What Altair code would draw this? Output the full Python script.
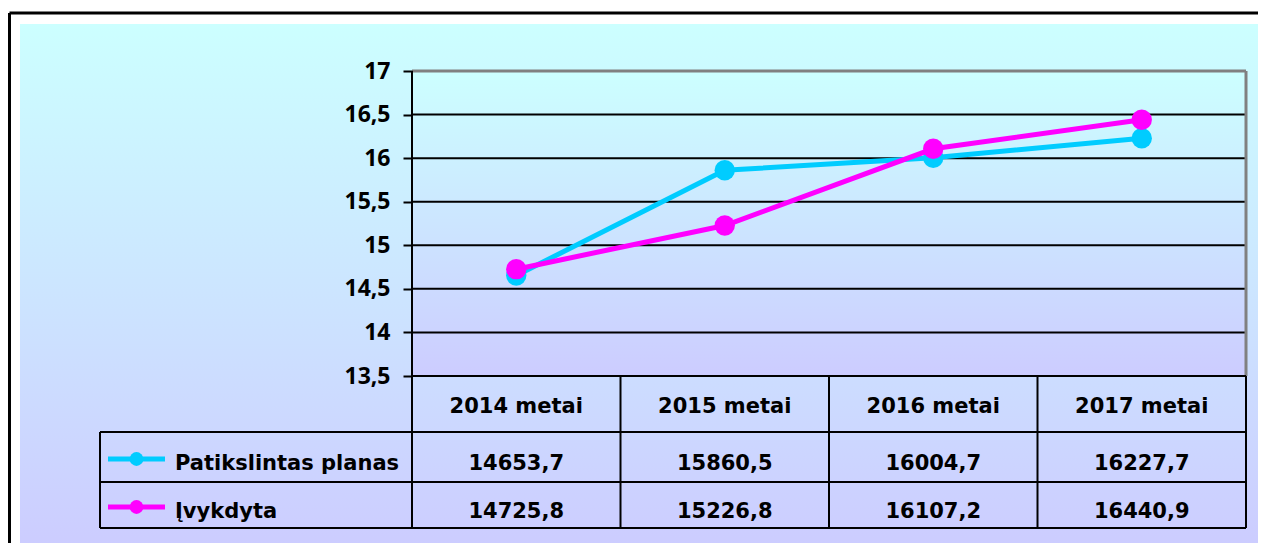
import altair as alt
import pandas as pd

# ---------------- data ----------------
years = ["2014 metai", "2015 metai", "2016 metai", "2017 metai"]
plan = [14653.7, 15860.5, 16004.7, 16227.7]
done = [14725.8, 15226.8, 16107.2, 16440.9]
series_names = ["Patikslintas planas", "Įvykdyta"]
series_colors = ["#00CCFF", "#FF00FF"]
y_ticks = [13.5, 14, 14.5, 15, 15.5, 16, 16.5, 17]

# ---------------- layout (page pixels) ----------------
PLOT_L, PLOT_T = 412, 71
PLOT_W = 834
Y_TOP, Y_BASE = 17.0, 13.5
PX_PER = (376 - 71) / (Y_TOP - Y_BASE)
TABLE_BOTTOM = 528
PLOT_H = TABLE_BOTTOM - PLOT_T
Y_LO = Y_TOP - PLOT_H / PX_PER
COL_W = PLOT_W / len(years)
VIEW_W, VIEW_H = 1250, 535


def yv(py):
    return Y_TOP - (py - PLOT_T) / PX_PER


def xv(px):
    return (px - PLOT_L) / COL_W


def rx(px):
    return px - PLOT_L


def ry(py):
    return py - PLOT_T


XS = alt.Scale(domain=[0, len(years)], nice=False, zero=False)
YS = alt.Scale(domain=[Y_LO, Y_TOP], nice=False, zero=False)
AX = alt.Axis(values=y_ticks, grid=False, domain=False, ticks=True,
              tickColor="black", tickWidth=2, tickSize=9,
              labelFont="Open Sans", labelFontWeight=700, labelFontSize=23,
              labelColor="black", labelPadding=13, labelFlush=False,
              labelOverlap=False,
              labelExpr="replace(toString(datum.value), '.', ',')",
              title=None, zindex=1)

TFONT = "DejaVu Sans"
TSIZE = 21

dummy = pd.DataFrame({"a": [0]})


def grad(top, bottom):
    return alt.LinearGradient(gradient="linear",
                              stops=[alt.GradientStop(color=top, offset=0),
                                     alt.GradientStop(color=bottom, offset=1)],
                              x1=0, x2=0, y1=0, y2=1)


layers = []

# outer background and frame
layers.append(alt.Chart(dummy).mark_rect(fill=grad("#CCFFFF", "#CCCCFF")).encode(
    x=alt.value(rx(20)), x2=alt.value(rx(1263)),
    y=alt.value(ry(24)), y2=alt.value(ry(548))))
layers.append(alt.Chart(dummy).mark_rule(color="black", strokeWidth=3).encode(
    x=alt.value(rx(9.5)), y=alt.value(ry(13)), y2=alt.value(ry(600))))
layers.append(alt.Chart(dummy).mark_rule(color="black", strokeWidth=3).encode(
    x=alt.value(rx(9.5)), x2=alt.value(rx(1300)), y=alt.value(ry(13))))

# plot-area gradient
plot_box = pd.DataFrame({"x": [0], "x2": [len(years)], "y": [Y_BASE], "y2": [Y_TOP]})
layers.append(alt.Chart(plot_box).mark_rect(fill=grad("#CCFFFF", "#CCCCFF")).encode(
    x=alt.X("x:Q", scale=XS, axis=None), x2="x2:Q",
    y=alt.Y("y:Q", scale=YS, axis=AX), y2="y2:Q"))

# gridlines
grid_df = pd.DataFrame({"y": y_ticks})
layers.append(alt.Chart(grid_df).mark_rule(color="black", strokeWidth=2).encode(
    x=alt.value(0), x2=alt.value(PLOT_W),
    y=alt.Y("y:Q", scale=YS, axis=AX)))

# gray plot border (top + right)
border = pd.DataFrame({"x": [0, len(years)], "x2": [len(years), len(years)],
                       "y": [Y_TOP, Y_BASE], "y2": [Y_TOP, Y_TOP]})
layers.append(alt.Chart(border).mark_rule(color="#808080", strokeWidth=3).encode(
    x=alt.X("x:Q", scale=XS, axis=None), x2="x2:Q",
    y=alt.Y("y:Q", scale=YS, axis=AX), y2="y2:Q"))

# table grid lines
LEG_L = xv(100)
R1, R2 = yv(432), yv(482)
segs = []
segs.append((0, len(years), Y_BASE, Y_BASE))
for yy in (R1, R2, Y_LO):
    segs.append((LEG_L, len(years), yy, yy))
segs.append((0, 0, Y_LO, Y_TOP))
for i in range(1, len(years) + 1):
    segs.append((i, i, Y_LO, Y_BASE))
segs.append((LEG_L, LEG_L, Y_LO, R1))
seg_df = pd.DataFrame(segs, columns=["x", "x2", "y", "y2"])
layers.append(alt.Chart(seg_df).mark_rule(color="black", strokeWidth=2).encode(
    x=alt.X("x:Q", scale=XS, axis=None), x2="x2:Q",
    y=alt.Y("y:Q", scale=YS, axis=AX), y2="y2:Q"))

# series lines + markers
for name, vals, col in zip(series_names, [plan, done], series_colors):
    sdf = pd.DataFrame({"pos": [i + 0.5 for i in range(len(years))], "value": vals})
    base = alt.Chart(sdf).transform_calculate(k="datum.value / 1000").encode(
        x=alt.X("pos:Q", scale=XS, axis=None),
        y=alt.Y("k:Q", scale=YS, axis=AX))
    layers.append(base.mark_line(color=col, strokeWidth=5))
    layers.append(base.mark_point(color=col, filled=True, opacity=1, size=415, shape="circle"))

# header row
hdr = pd.DataFrame({"label": years, "pos": [i + 0.5 for i in range(len(years))],
                    "ty": [yv(413)] * len(years)})
layers.append(alt.Chart(hdr).mark_text(font=TFONT, fontWeight="bold", fontSize=TSIZE,
                                       color="black", align="center", baseline="alphabetic").encode(
    x=alt.X("pos:Q", scale=XS, axis=None), y=alt.Y("ty:Q", scale=YS, axis=AX), text="label:N"))

# value rows + legend
row_base = [yv(470), yv(518)]
row_mid = [yv(459), yv(507)]
rows = []
for si, (name, vals) in enumerate(zip(series_names, [plan, done])):
    for i, v in enumerate(vals):
        rows.append({"pos": i + 0.5, "value": v, "ty": row_base[si]})
val_df = pd.DataFrame(rows)
layers.append(alt.Chart(val_df).transform_calculate(
    txt="replace(format(datum.value, '.1f'), '.', ',')").mark_text(
    font=TFONT, fontWeight="bold", fontSize=TSIZE, color="black",
    align="center", baseline="alphabetic").encode(
    x=alt.X("pos:Q", scale=XS, axis=None), y=alt.Y("ty:Q", scale=YS, axis=AX), text="txt:N"))

leg = pd.DataFrame({"name": series_names, "ty": row_base, "ym": row_mid,
                    "x": [xv(108)] * 2, "x2": [xv(165)] * 2, "xc": [xv(136.5)] * 2,
                    "xt": [xv(175)] * 2})
CS = alt.Scale(domain=series_names, range=series_colors)
layers.append(alt.Chart(leg).mark_rule(strokeWidth=5).encode(
    x=alt.X("x:Q", scale=XS, axis=None), x2="x2:Q",
    y=alt.Y("ym:Q", scale=YS, axis=AX),
    color=alt.Color("name:N", scale=CS, legend=None)))
layers.append(alt.Chart(leg).mark_point(filled=True, opacity=1, size=190, shape="circle").encode(
    x=alt.X("xc:Q", scale=XS, axis=None),
    y=alt.Y("ym:Q", scale=YS, axis=AX),
    color=alt.Color("name:N", scale=CS, legend=None)))
layers.append(alt.Chart(leg).mark_text(font=TFONT, fontWeight="bold", fontSize=TSIZE,
                                       color="black", align="left", baseline="alphabetic").encode(
    x=alt.X("xt:Q", scale=XS, axis=None), y=alt.Y("ty:Q", scale=YS, axis=AX), text="name:N"))

chart = alt.layer(*layers).properties(
    width=PLOT_W, height=PLOT_H,
    autosize=alt.AutoSizeParams(type="none"),
    padding={"left": PLOT_L - 8, "top": PLOT_T - 8,
             "right": VIEW_W - (PLOT_L - 8) - PLOT_W,
             "bottom": VIEW_H - (PLOT_T - 8) - PLOT_H},
    background="white",
).configure_view(stroke=None)

chart.save("out.html", embed_options={"renderer": "svg", "actions": False})
